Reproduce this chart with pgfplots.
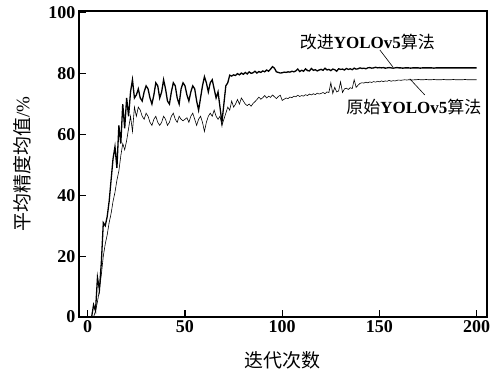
\documentclass[border=0pt]{standalone}
\usepackage{pgfplots}
\pgfplotsset{compat=1.18}
\usepackage{fontspec}
\setmainfont{Liberation Serif}
\newfontfamily\cjk{Noto Sans CJK SC}
\begin{document}
\begin{tikzpicture}
\begin{axis}[
  scale only axis,
  width=408pt, height=306pt,
  xmin=-4.5, xmax=205.3, ymin=0, ymax=100.6,
  xtick={0,50,100,150,200}, ytick={0,20,40,60,80,100},
  tick align=inside, xtick pos=bottom, ytick pos=left,
  major tick length=7pt,
  axis line style={line width=1.2pt},
  every tick/.style={line width=1.1pt, black},
  tick label style={font=\fontsize{18}{20}\selectfont\bfseries},
  /pgf/number format/assume math mode=true,
  xlabel={\cjk 迭代次数},
  ylabel={{\cjk 平均精度均值}/\%},
  label style={font=\fontsize{19}{21}\selectfont},
  xlabel style={at={(axis description cs:0.5,-0.142)}, anchor=center},
  ylabel style={at={(axis description cs:-0.1397,0.5)}, anchor=center},
  clip=false,
]
\addplot[black, line width=0.6pt] table {
0 0
1 0
2 0
3 0
4 2
5 5
6 9
7 14
8 20
9 24
10 27
11 31
12 34
13 38
14 41
15 45
16 48
17 53
18 57
19 55
20 58
21 62
22 66
23 61
24 69
25 66
26 69
27 68
28 66
29 65
30 67
31 66
32 64
33 63
34 65
35 66
36 64
37 63
38 64
39 66
40 65
41 63
42 64
43 66
44 67
45 65
46 64
47 66
48 65
49 64.5
50 65
51 65.5
52 64
53 66
54 67
55 65
56 63
57 65
58 66
59 64
60 61
61 64
62 66
63 67
64 66
65 68
66 66
67 65
68 66
69 63
70 65
71 67
72 69
73 68
74 71
75 69
76 70
77 71.5
78 70
79 72
80 71
81 70
82 69.5
83 70
84 69.3
85 70.2
86 70.8
87 71.5
88 72.3
89 71.6
90 72.1
91 72.8
92 72
93 72.6
94 72.2
95 73
96 72.4
97 71.8
98 72.5
99 72.9
100 71.2
101 71.6
102 72
103 71.8
104 72.3
105 72.1
106 72.6
107 72.4
108 72.9
109 72.5
110 72.8
111 72.6
112 73.1
113 72.8
114 73.3
115 73
116 73.4
117 73.1
118 73.6
119 73.3
120 73.5
121 73.8
122 73.4
123 74
124 73.8
125 77
126 73.5
127 75.5
128 74
129 74.3
130 77.3
131 73.8
132 75
133 75.2
134 74.8
135 75.4
136 75.1
137 78
138 75.5
139 76.2
140 76.8
141 77
142 76.9
143 77.2
144 77
145 77.3
146 77.1
147 77.4
148 77.2
149 77.5
150 77.3
151 77.6
152 77.4
153 77.6
154 77.5
155 77.8
156 77.5
157 77.7
158 77.6
159 77.8
160 77.9
161 77.8
162 77.9
163 78
164 77.9
165 78
166 78
167 77.9
168 78
169 78
170 78.1
171 78
172 78
173 78
174 78.1
175 78
176 78
177 78
178 78.1
179 78
180 78
181 78
182 78
183 78.1
184 78
185 78
186 78
187 78
188 78.1
189 78
190 78
191 78
192 78
193 78
194 78.1
195 78
196 78
197 78
198 78
199 78
200 78
};
\addplot[black, line width=1.3pt] table {
0 0
1 0
2 0
3 4
4 2
5 13
6 9
7 18
8 31
9 30
10 33
11 38
12 45
13 52
14 56
15 49
16 63
17 57
18 70
19 62
20 72
21 66
22 74
23 78
24 72
25 73
26 75
27 72
28 71
29 74
30 76
31 75
32 72
33 70
34 73
35 77
36 76
37 72
38 74
39 78
40 75
41 71
42 70
43 74
44 77
45 76
46 72
47 70
48 75
49 77
50 76
51 73
52 71
53 74
54 76
55 75
56 71
57 68
58 72
59 76
60 79
61 77
62 74
63 77
64 78
65 75
66 72
67 74
68 69
69 64
70 70
71 76
72 77
73 79.5
74 79.2
75 79.6
76 79.4
77 80
78 79.6
79 80.2
80 79.8
81 80.4
82 79.9
83 80.6
84 80.1
85 80.3
86 80.8
87 80.2
88 80.7
89 80.4
90 80.9
91 80.6
92 81.2
93 80.8
94 81.5
95 82.3
96 81.8
97 80.6
98 80.4
99 80.2
100 80.3
101 80.5
102 80.4
103 80.6
104 80.5
105 80.8
106 80.6
107 80.9
108 81.5
109 80.7
110 81.1
111 80.8
112 81.6
113 81
114 80.9
115 81.7
116 81.1
117 81.3
118 80.9
119 81.2
120 81.4
121 81.1
122 81.8
123 81.2
124 81.4
125 81
126 81.5
127 81.3
128 80.8
129 81.6
130 81.4
131 81.5
132 81.2
133 81.7
134 81.4
135 81.6
136 81.3
137 81.8
138 81.5
139 81.6
140 81.9
141 81.7
142 81.8
143 81.6
144 81.9
145 82
146 81.8
147 81.9
148 82.1
149 81.9
150 82
151 81.9
152 82
153 81.8
154 81.9
155 82
156 81.9
157 81.8
158 81.9
159 82
160 81.9
161 81.9
162 81.8
163 81.9
164 81.9
165 81.9
166 81.8
167 81.9
168 81.9
169 81.9
170 81.9
171 81.8
172 81.9
173 81.9
174 81.9
175 81.9
176 81.9
177 81.9
178 81.8
179 81.9
180 81.9
181 81.9
182 81.9
183 81.9
184 81.9
185 81.9
186 81.9
187 81.9
188 81.9
189 81.9
190 81.9
191 81.9
192 81.9
193 81.9
194 81.9
195 81.9
196 81.9
197 81.9
198 81.9
199 81.9
200 81.9
};
\draw[black, line width=0.6pt] (axis cs:150.2,87.8) -- (axis cs:156.9,82.2);
\draw[black, line width=0.6pt] (axis cs:165.6,78.3) -- (axis cs:173.3,73.0);
\node[font=\fontsize{17}{19}\selectfont] at (axis cs:143.8,90.5) {{\cjk 改进}\textbf{YOLOv5}{\cjk 算法}};
\node[font=\fontsize{17}{19}\selectfont] at (axis cs:167.7,69.1) {{\cjk 原始}\textbf{YOLOv5}{\cjk 算法}};
\end{axis}
\path (current axis.north east) ++(12pt,11pt) coordinate (ne);
\path (current axis.south west) ++(-79pt,-59pt) rectangle (ne);
\end{tikzpicture}
\end{document}
